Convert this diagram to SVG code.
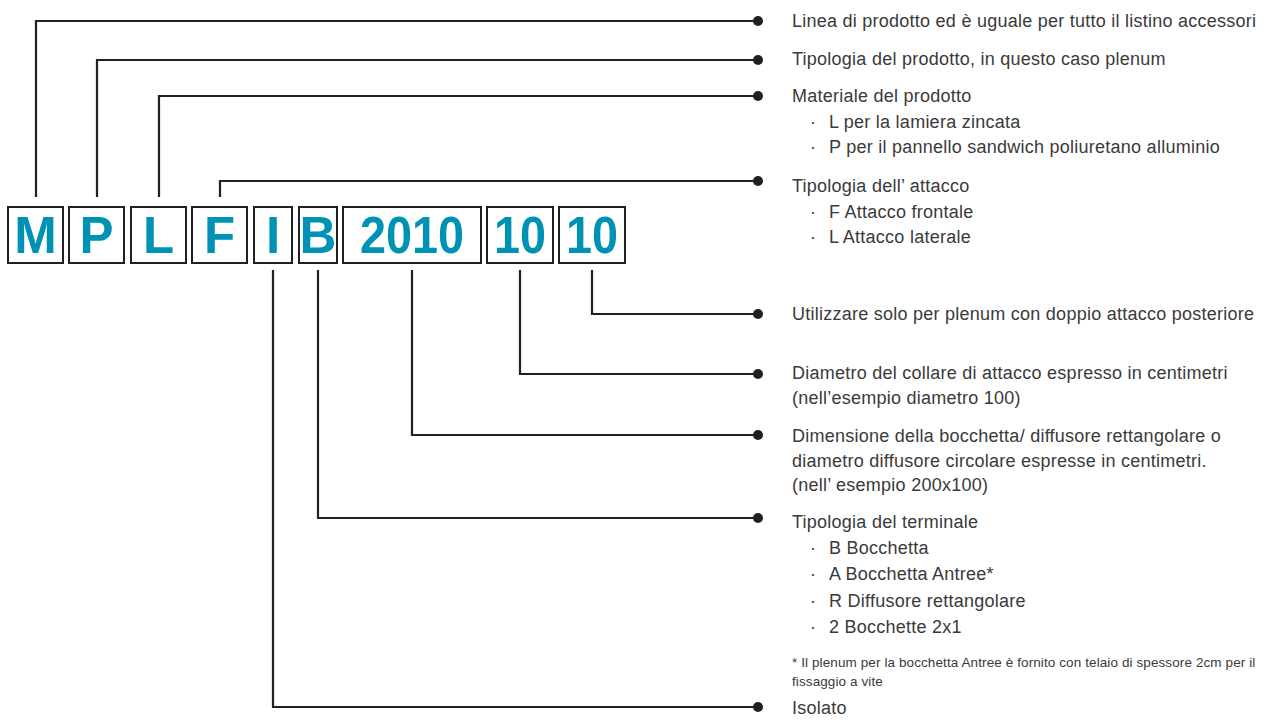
<svg xmlns="http://www.w3.org/2000/svg" width="1270" height="720" viewBox="0 0 1270 720">
<style>
.box{fill:#fff;stroke:#231f20;stroke-width:2}
.code{font-family:"Liberation Sans",Arial,sans-serif;font-weight:bold;font-size:51px;fill:#0092b4;text-anchor:middle}
.conn{fill:none;stroke:#231f20;stroke-width:2.2}
.dot{fill:#231f20}
.t{font-family:"Liberation Sans",Arial,sans-serif;font-size:18px;letter-spacing:0.25px;fill:#3a3a3a}
.fn{font-family:"Liberation Sans",Arial,sans-serif;font-size:13.5px;letter-spacing:0.1px;fill:#3a3a3a}
</style>
<rect width="1270" height="720" fill="#fff"/>
<g id="connectors">
<path class="conn" d="M36,197V21H757"/>
<path class="conn" d="M97,197V60H757"/>
<path class="conn" d="M159,197V96H757"/>
<path class="conn" d="M220,197V181H757"/>
<path class="conn" d="M592,270V314H757"/>
<path class="conn" d="M520,270V374H757"/>
<path class="conn" d="M412,270V435H757"/>
<path class="conn" d="M318,270V518H757"/>
<path class="conn" d="M273,270V707H757"/>
<circle class="dot" cx="758" cy="21" r="5"/>
<circle class="dot" cx="758" cy="60" r="5"/>
<circle class="dot" cx="758" cy="96" r="5"/>
<circle class="dot" cx="758" cy="181" r="5"/>
<circle class="dot" cx="758" cy="314" r="5"/>
<circle class="dot" cx="758" cy="374" r="5"/>
<circle class="dot" cx="758" cy="435" r="5"/>
<circle class="dot" cx="758" cy="518" r="5"/>
<circle class="dot" cx="758" cy="707" r="5"/>
</g>
<g id="box-M"><rect class="box" x="8" y="207" width="55" height="56"/><text class="code" x="35.5" y="253">M</text></g>
<g id="box-P"><rect class="box" x="69" y="207" width="55" height="56"/><text class="code" x="96.5" y="253">P</text></g>
<g id="box-L"><rect class="box" x="131" y="207" width="55" height="56"/><text class="code" x="158.5" y="253">L</text></g>
<g id="box-F"><rect class="box" x="192" y="207" width="55" height="56"/><text class="code" x="219.5" y="253">F</text></g>
<g id="box-I"><rect class="box" x="254" y="207" width="38" height="56"/><text class="code" x="273" y="253">I</text></g>
<g id="box-B"><rect class="box" x="299" y="207" width="38" height="56"/><text class="code" x="318" y="253">B</text></g>
<g id="box-2010"><rect class="box" x="343" y="207" width="138" height="56"/><text class="code" x="412" y="253" textLength="104" lengthAdjust="spacingAndGlyphs">2010</text></g>
<g id="box-10a"><rect class="box" x="487" y="207" width="66" height="56"/><text class="code" x="520" y="253" textLength="52" lengthAdjust="spacingAndGlyphs">10</text></g>
<g id="box-10b"><rect class="box" x="559" y="207" width="66" height="56"/><text class="code" x="592" y="253" textLength="52" lengthAdjust="spacingAndGlyphs">10</text></g>
<g id="label-linea"><text class="t" x="792" y="27">Linea di prodotto ed è uguale per tutto il listino accessori</text></g>
<g id="label-tipologia-prodotto"><text class="t" x="792" y="65">Tipologia del prodotto, in questo caso plenum</text></g>
<g id="label-materiale">
<text class="t" x="792" y="102">Materiale del prodotto</text>
<text class="t" x="810" y="128">·</text><text class="t" x="829" y="128">L per la lamiera zincata</text>
<text class="t" x="810" y="153">·</text><text class="t" x="829" y="153">P per il pannello sandwich poliuretano alluminio</text>
</g>
<g id="label-attacco">
<text class="t" x="792" y="192">Tipologia dell’ attacco</text>
<text class="t" x="810" y="218">·</text><text class="t" x="829" y="218">F Attacco frontale</text>
<text class="t" x="810" y="243">·</text><text class="t" x="829" y="243">L Attacco laterale</text>
</g>
<g id="label-utilizzare"><text class="t" x="792" y="320">Utilizzare solo per plenum con doppio attacco posteriore</text></g>
<g id="label-diametro">
<text class="t" x="792" y="379">Diametro del collare di attacco espresso in centimetri</text>
<text class="t" x="792" y="404">(nell’esempio diametro 100)</text>
</g>
<g id="label-dimensione">
<text class="t" x="792" y="442">Dimensione della bocchetta/ diffusore rettangolare o</text>
<text class="t" x="792" y="467">diametro diffusore circolare espresse in centimetri.</text>
<text class="t" x="792" y="491">(nell’ esempio 200x100)</text>
</g>
<g id="label-terminale">
<text class="t" x="792" y="528">Tipologia del terminale</text>
<text class="t" x="810" y="554">·</text><text class="t" x="829" y="554">B Bocchetta</text>
<text class="t" x="810" y="580">·</text><text class="t" x="829" y="580">A Bocchetta Antree*</text>
<text class="t" x="810" y="607">·</text><text class="t" x="829" y="607">R Diffusore rettangolare</text>
<text class="t" x="810" y="633">·</text><text class="t" x="829" y="633">2 Bocchette 2x1</text>
<text class="fn" x="792" y="667">* Il plenum per la bocchetta Antree è fornito con telaio di spessore 2cm per il</text>
<text class="fn" x="792" y="686">fissaggio a vite</text>
</g>
<g id="label-isolato"><text class="t" x="792" y="714">Isolato</text></g>
</svg>
